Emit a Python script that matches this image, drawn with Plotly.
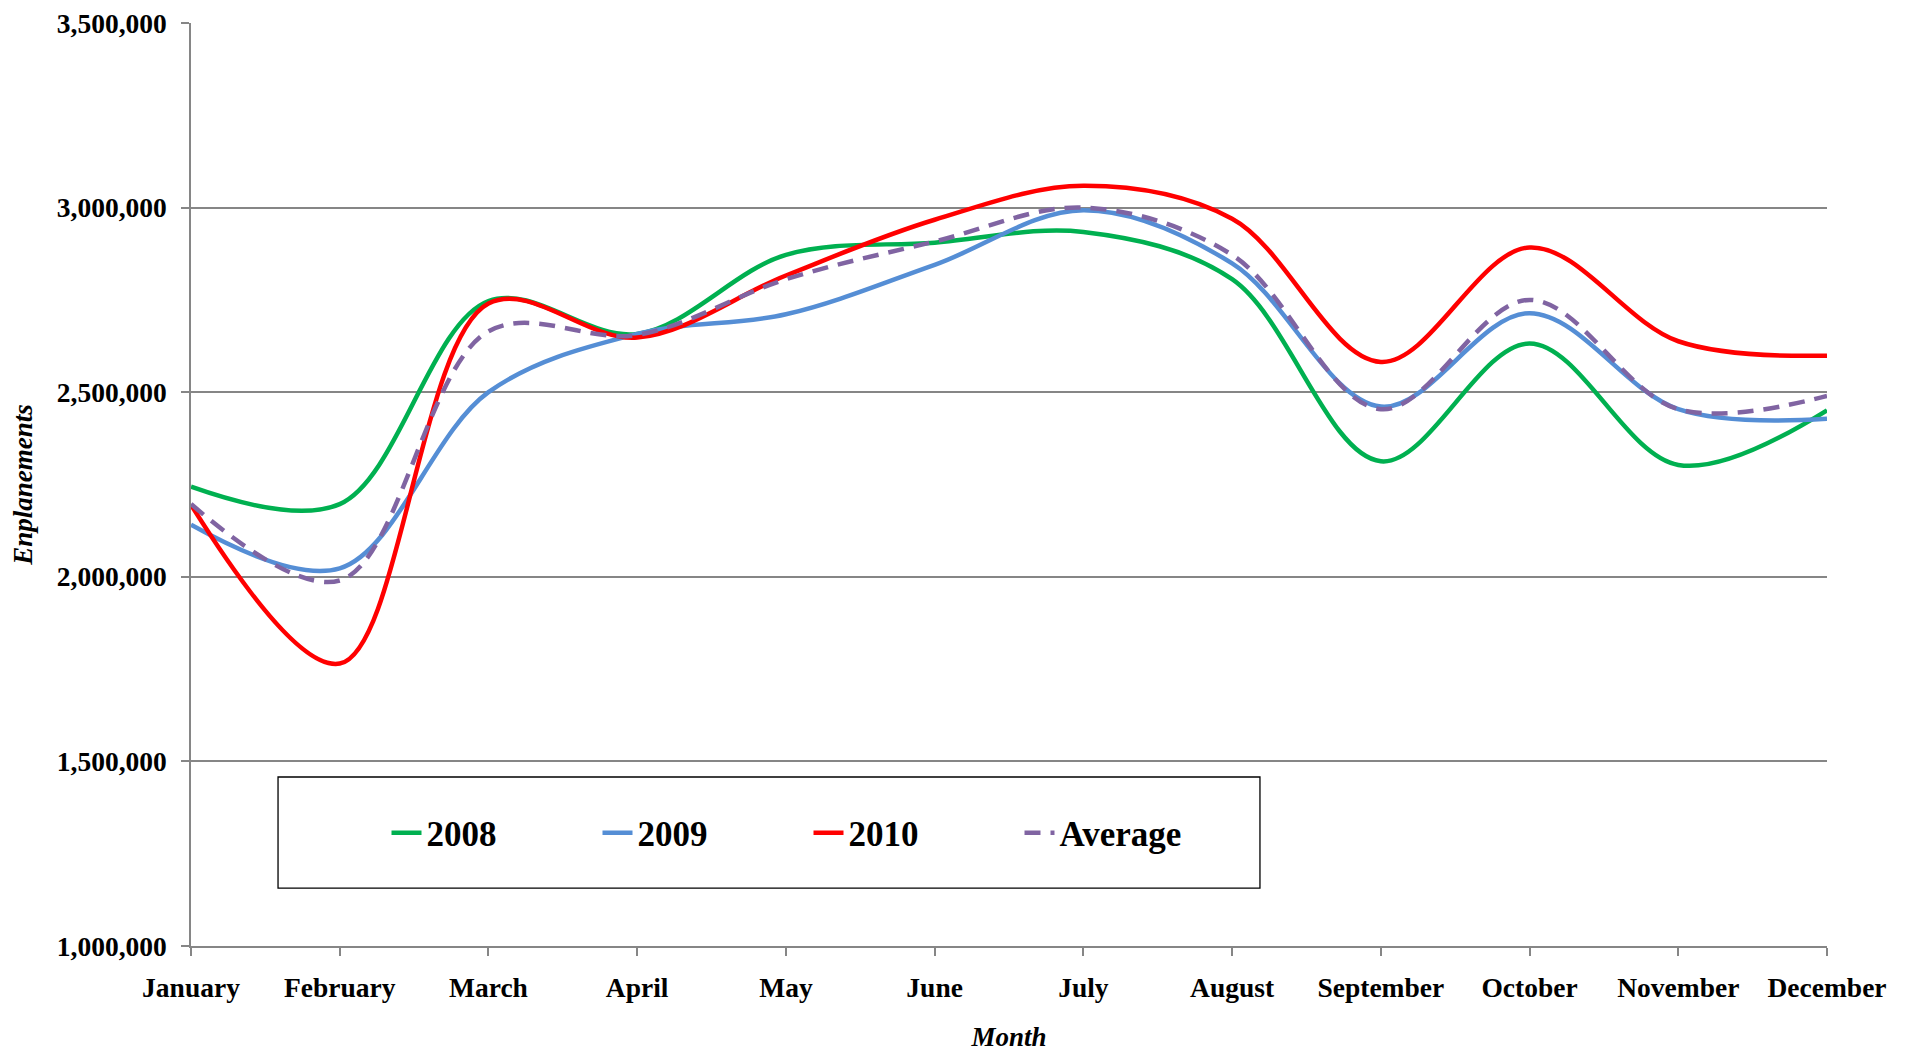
import plotly.graph_objects as go

months = ["January", "February", "March", "April", "May", "June", "July",
          "August", "September", "October", "November", "December"]

y2008 = [2244000, 2197000, 2747000, 2658000, 2872000, 2905000, 2934000,
         2806000, 2313000, 2632000, 2303000, 2451000]
y2009 = [2141000, 2023000, 2500000, 2658000, 2711000, 2845000, 2993000,
         2849000, 2461000, 2714000, 2454000, 2428000]
y2010 = [2195000, 1765000, 2740000, 2648000, 2816000, 2967000, 3059000,
         2970000, 2582000, 2892000, 2638000, 2599000]
y_avg = [2197000, 1990000, 2665000, 2655000, 2806000, 2908000, 3000000,
         2872000, 2454000, 2750000, 2454000, 2490000]

series = [
    ("2008", y2008, "#00B050", "solid"),
    ("2009", y2009, "#558ED5", "solid"),
    ("2010", y2010, "#FF0000", "solid"),
    ("Average", y_avg, "#8064A2", "16px,10px"),
]

font_family = "Liberation Serif, Times New Roman, serif"

fig = go.Figure()
for name, vals, color, dash in series:
    fig.add_trace(go.Scatter(
        x=months, y=vals, name=name, mode="lines",
        line=dict(color=color, width=4.5, shape="spline", smoothing=1, dash=dash),
    ))

fig.update_layout(
    width=1905, height=1044,
    paper_bgcolor="white", plot_bgcolor="white",
    margin=dict(l=183, r=86, t=15, b=106, autoexpand=False),
    font=dict(family=font_family, color="black"),
    showlegend=True,
    legend=dict(
        orientation="h", x=0.1195, xanchor="left", y=0.1224, yanchor="middle",
        font=dict(family=font_family, size=35, color="black", weight="bold"),
        bgcolor="rgba(0,0,0,0)", borderwidth=0,
        entrywidth=166, entrywidthmode="pixels",
        itemwidth=30,
    ),
    shapes=[dict(
        type="rect", xref="paper", yref="paper",
        x0=0.0532, x1=0.6534, y0=0.0628, y1=0.1831,
        line=dict(color="black", width=1.3), fillcolor="white", layer="below",
    )],
)

fig.update_xaxes(
    type="category", range=[0, 11],
    showgrid=False, showline=True, linecolor="#868686", linewidth=1.5,
    ticks="outside", ticklen=8, tickcolor="#868686", tickwidth=1.5,
    tickfont=dict(family=font_family, size=27.5, color="black", weight="bold"),
    ticklabelstandoff=8,
    title=dict(text="<b><i>Month</i></b>", font=dict(family=font_family, size=27, color="black"),
               standoff=26),
    zeroline=False,
)
fig.update_yaxes(
    range=[1000000, 3500000], dtick=500000, tick0=1000000, tickformat=",d",
    showgrid=True, gridcolor="#868686", gridwidth=1.5,
    showline=True, linecolor="#868686", linewidth=1.5,
    ticks="outside", ticklen=8, tickcolor="#868686", tickwidth=1.5,
    tickfont=dict(family=font_family, size=27.5, color="black", weight="bold"),
    ticklabelstandoff=9, ticklabeloverflow="allow",
    title=dict(text="<b><i>Enplanements</i></b>", font=dict(family=font_family, size=27, color="black"),
               standoff=21),
    zeroline=False,
)

fig.write_html("out.html")
